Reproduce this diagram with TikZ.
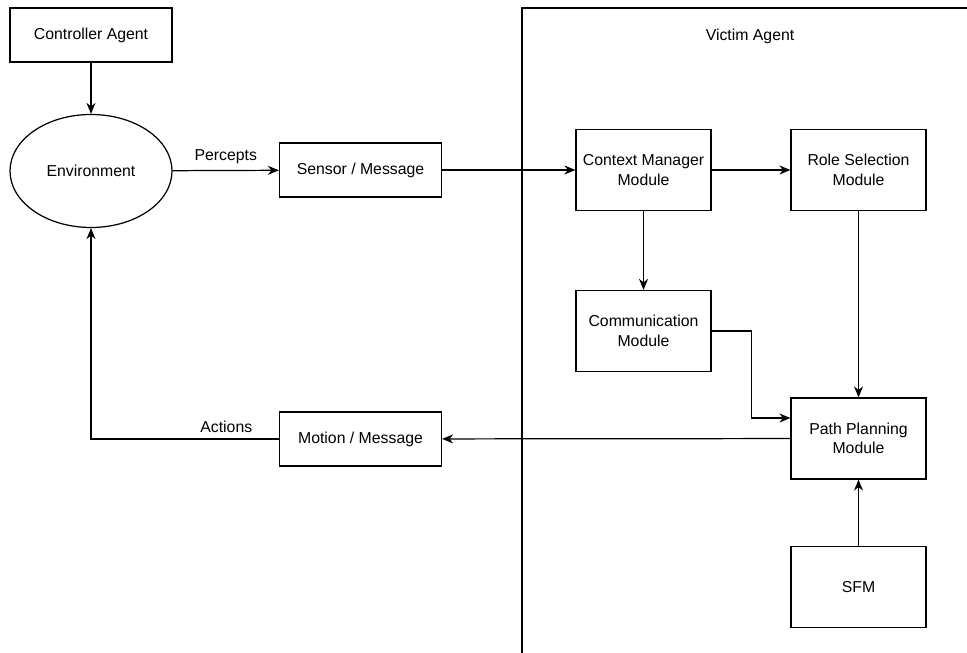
\documentclass[tikz,border=0pt]{standalone}
\usepackage{fontspec}
\setmainfont{Liberation Sans}
\usetikzlibrary{arrows.meta,shapes.geometric}

\begin{document}
\begin{tikzpicture}[
        box/.style={draw, line width=0.7pt, inner sep=1pt, align=center, font=\fontsize{9}{11}\selectfont},
        wide/.style={box, minimum width=3.24cm, minimum height=1.08cm},
        module/.style={box, minimum width=2.70cm, minimum height=1.62cm},
        link/.style={line width=0.7pt, -{Stealth[length=2.2mm,width=1.8mm]}},
        lbl/.style={font=\fontsize{9}{11}\selectfont}
    ]
            \useasboundingbox (0,0) rectangle (19.34,-13.06);

            % victim agent frame (runs off the page)
            \draw[line width=0.7pt] (19.6,-0.16) -- (10.44,-0.16) -- (10.44,-13.3);
            \node[lbl] (victim) at (15.0,-0.72) {Victim Agent};

            \node[wide] (ctrl) at (1.82,-0.70) {Controller Agent};
            \node[draw, line width=0.7pt, ellipse, minimum width=3.24cm, minimum height=2.26cm, lbl] (env) at (1.82,-3.42) {Environment};
            \node[wide] (sensor) at (7.21,-3.40) {Sensor / Message};
            \node[wide] (motion) at (7.21,-8.78) {Motion / Message};

            \node[module] (cm) at (12.87,-3.40) {Context Manager\\Module};
            \node[module] (rs) at (17.17,-3.40) {Role Selection\\Module};
            \node[module] (comm) at (12.87,-6.62) {Communication\\Module};
            \node[module] (pp) at (17.17,-8.77) {Path Planning\\Module};
            \node[module] (sfm) at (17.17,-11.74) {SFM};

            \draw[link] (ctrl) -- (env);
            \draw[link] (env) -- node[lbl, above] {Percepts} (sensor);
            \draw[link] (sensor) -- (cm);
            \draw[link] (cm) -- (rs);
            \draw[link] (cm) -- (comm);
            \draw[link] (rs) -- (pp);
            \draw[link] (comm.east) -- ++(0.8,0) |- ([yshift=4.1mm]pp.west);
            \draw[link] (sfm) -- (pp);
            \draw[link] (pp) -- (motion);
            \draw[link] (motion.west) -| node[lbl, pos=0.14, above] {Actions} (env.south);
        \end{tikzpicture}
\end{document}
